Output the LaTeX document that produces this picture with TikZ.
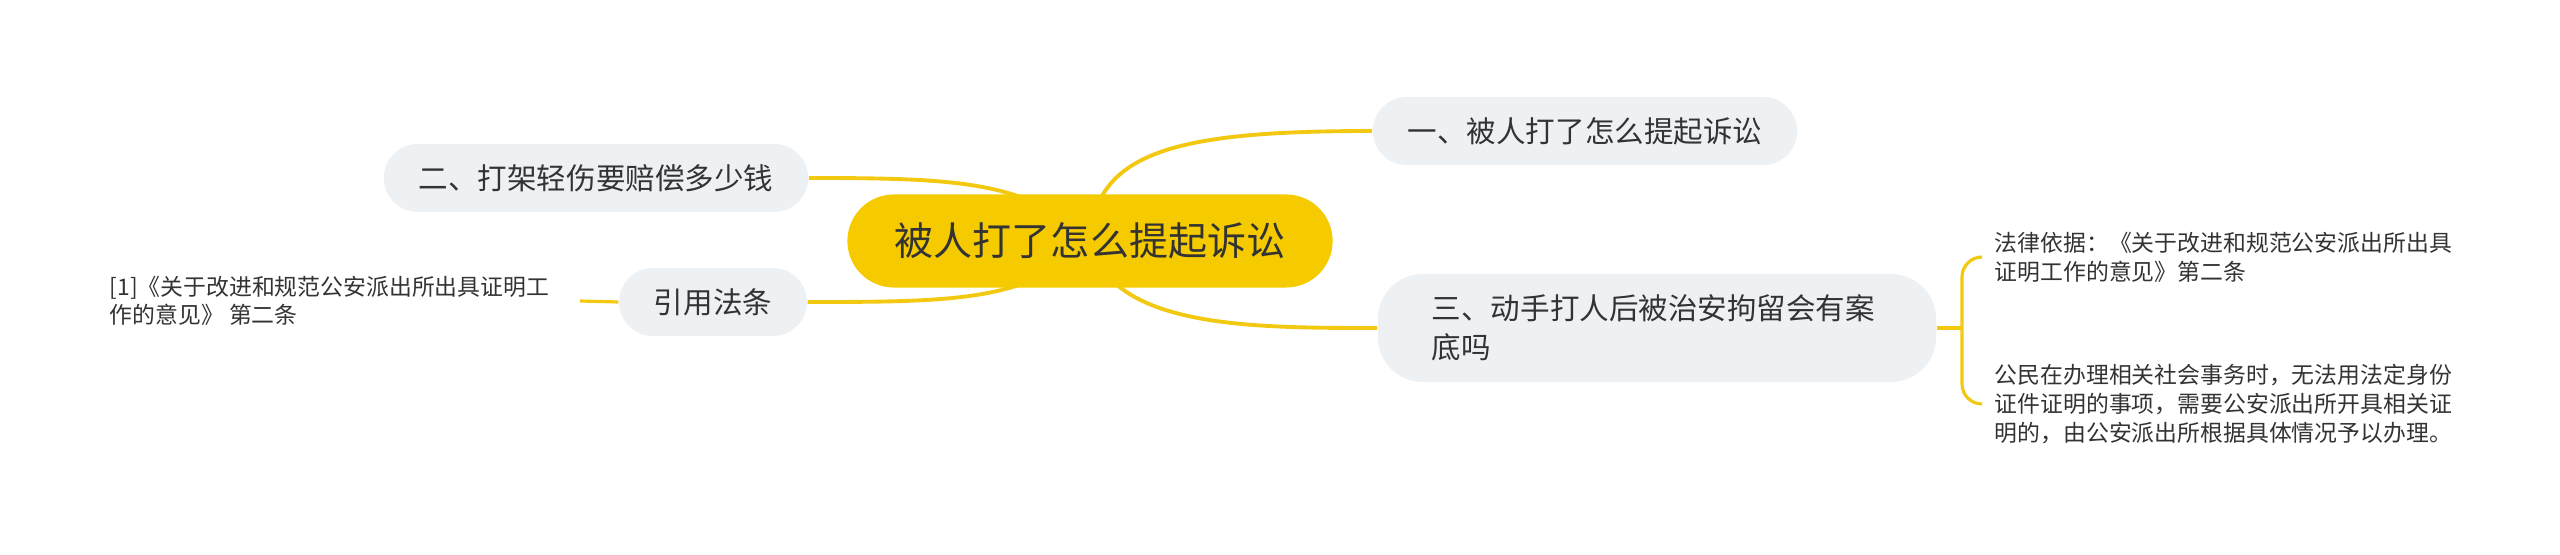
\documentclass[tikz,border=0pt]{standalone}
\usepackage{fontspec}
\setmainfont{Noto Sans CJK SC}
\usetikzlibrary{shapes.misc, positioning, backgrounds}

\definecolor{rootgold}{HTML}{F5CB00}
\definecolor{branchgrey}{HTML}{EEF1F4}
\definecolor{linkgold}{HTML}{F2C811}
\definecolor{inkgrey}{HTML}{333333}

\begin{document}
\begin{tikzpicture}[
    x=0.01cm, y=-0.01cm,
    root/.style={rounded rectangle, fill=rootgold, text=inkgrey, minimum width=4.85cm, minimum height=0.93cm, inner xsep=0pt, font=\fontsize{11.1pt}{13pt}\selectfont},
    branch/.style={rounded rectangle, fill=branchgrey, text=inkgrey, minimum height=0.68cm, inner xsep=0.32cm, font=\fontsize{8.4pt}{11.1pt}\selectfont},
    bigbranch/.style={rectangle, rounded corners=0.45cm, fill=branchgrey, text=inkgrey, minimum height=1.08cm, text width=4.5cm, align=left, inner xsep=0.54cm, font=\fontsize{8.4pt}{11.1pt}\selectfont},
    leaf/.style={text=inkgrey, align=left, inner ysep=0pt, font=\fontsize{6.5pt}{8.2pt}\selectfont},
    link/.style={draw=linkgold, line width=1.1pt},
    % leaf connectors are thinner
    twig/.style={draw=linkgold, line width=0.9pt}
]
\useasboundingbox (0,0) rectangle (2560,555);

% Root
\node (root) [root] at (1090,241) {被人打了怎么提起诉讼};

% Branches
\node (first) [branch, minimum width=4.19cm] at (1585,131) {一、被人打了怎么提起诉讼};
\node (second) [branch, minimum width=4.22cm] at (596,178) {二、打架轻伤要赔偿多少钱};
\node (cite) [branch, minimum width=1.85cm] at (713,302) {引用法条};
\node (third) [bigbranch] at (1657,328) {三、动手打人后被治安拘留会有案\\底吗};

% Leaves
\node (citeleaf) [leaf, anchor=east, inner xsep=0.3cm, font=\fontsize{6.5pt}{8pt}\selectfont] at (580,301) {[1]《关于改进和规范公安派出所出具证明工\\作的意见》 第二条};
\node (law) [leaf, anchor=west, inner xsep=0.12cm] at (1982,257) {法律依据：《关于改进和规范公安派出所出具\\证明工作的意见》第二条};
\node (civil) [leaf, anchor=west, inner xsep=0.12cm] at (1982,404) {公民在办理相关社会事务时，无法用法定身份\\证件证明的事项，需要公安派出所开具相关证\\明的，由公安派出所根据具体情况予以办理。};
\coordinate (brace) at (1962,328);

% Connectors
\begin{scope}[on background layer]
\draw [link] (root.center) .. controls (1095,150) and (1180,131) .. (first.west);
\draw [link] (root.center) .. controls (1030,181) and (957,178) .. (second.east);
\draw [link] (root.center) .. controls (1030,301) and (957,302) .. (cite.east);
\draw [link] (root.center) .. controls (1110,328) and (1250,328) .. (third.west);
\end{scope}
\draw [twig] (cite.west) -- (citeleaf.east);
\draw [twig] (third.east) -- (brace);
\draw [twig, rounded corners=0.2cm] (law.west) -| (brace) |- (civil.west);

\end{tikzpicture}
\end{document}
